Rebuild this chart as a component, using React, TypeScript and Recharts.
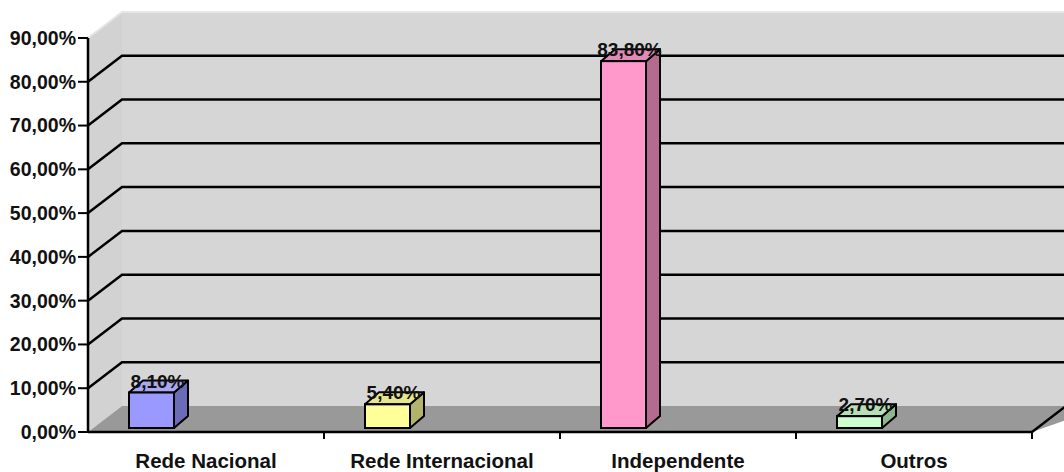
import { BarChart, Bar, XAxis, YAxis, CartesianGrid } from "recharts";

const categories = ["Rede Nacional", "Rede Internacional", "Independente", "Outros"];
const shares = [8.1, 5.4, 83.8, 2.7];
const yTicks = [0, 10, 20, 30, 40, 50, 60, 70, 80, 90];

const FRONT = ["#9999FF", "#FFFF99", "#FF99CC", "#CCFFCC"];
const TOP = ["#A8A8F0", "#E6E68C", "#E08AB5", "#B5E0B5"];
const SIDE = ["#6B6BB8", "#B3B36B", "#B56B90", "#8FB58F"];

// 3D look: back wall offset and bar depth
const WALL_DX = 34;
const WALL_DY = 26;
const BAR_DX = 14;
const BAR_DY = 12;
const BAR_SHIFT = -55;
const BAR_LIFT = -4;

const FONT = "'Liberation Sans', Arial, sans-serif";

const data = categories.map((name, i) => ({ name, value: shares[i] }));

const pct = (v: number) => v.toFixed(2).replace(".", ",") + "%";

function Walls(props: any) {
  const { x, y, width, height, index } = props;
  if (index !== 0) return <g />;
  const bottom = y + height;
  const right = x + width;
  return (
    <g>
      <polygon
        points={`${x},${y} ${x + WALL_DX},${y - WALL_DY} ${x + WALL_DX},${bottom - WALL_DY} ${x},${bottom}`}
        fill="#d2d2d2"
      />
      <polygon
        points={`${x + WALL_DX},${y - WALL_DY} ${right + WALL_DX + 40},${y - WALL_DY} ${right + WALL_DX + 40},${bottom - WALL_DY} ${x + WALL_DX},${bottom - WALL_DY}`}
        fill="#d6d6d6"
      />
      <polygon
        points={`${x},${bottom} ${x + WALL_DX},${bottom - WALL_DY} ${right + WALL_DX + 40},${bottom - WALL_DY} ${right},${bottom}`}
        fill="#999999"
      />
      <polyline
        points={`${x},${y} ${x + WALL_DX},${y - WALL_DY} ${right + WALL_DX + 40},${y - WALL_DY}`}
        fill="none"
        stroke="#e6e6e6"
        strokeWidth={2}
      />
      <line x1={right} y1={bottom} x2={right + WALL_DX} y2={bottom - WALL_DY} stroke="#000" strokeWidth={2.5} />
    </g>
  );
}

function GridLine(props: any) {
  const { x1, y1, x2, y, height } = props;
  if (Math.abs(y1 - y) < 1 || Math.abs(y1 - (y + height)) < 1) return <g />;
  return (
    <polyline
      points={`${x1},${y1} ${x1 + WALL_DX},${y1 - WALL_DY} ${x2 + WALL_DX + 40},${y1 - WALL_DY}`}
      fill="none"
      stroke="#000"
      strokeWidth={2.5}
    />
  );
}

function Bar3D(props: any) {
  const { x, y, width, height, index, value } = props;
  const fx = x + BAR_SHIFT;
  const fy = y + BAR_LIFT;
  const w = width;
  const h = height;
  const v = Array.isArray(value) ? value[1] - value[0] : value;
  return (
    <g>
      <polygon
        points={`${fx + w},${fy} ${fx + w + BAR_DX},${fy - BAR_DY} ${fx + w + BAR_DX},${fy + h - BAR_DY} ${fx + w},${fy + h}`}
        fill={SIDE[index]}
        stroke="#000"
        strokeWidth={2}
        strokeLinejoin="round"
      />
      <polygon
        points={`${fx},${fy} ${fx + BAR_DX},${fy - BAR_DY} ${fx + w + BAR_DX},${fy - BAR_DY} ${fx + w},${fy}`}
        fill={TOP[index]}
        stroke="#000"
        strokeWidth={2}
        strokeLinejoin="round"
      />
      <rect x={fx} y={fy} width={w} height={h} fill={FRONT[index]} stroke="#000" strokeWidth={2} />
      <text
        x={fx + w / 2 + 6}
        y={fy - 5}
        textAnchor="middle"
        fontFamily={FONT}
        fontWeight="bold"
        fontSize={19}
        fill="#111"
      >
        {pct(v)}
      </text>
    </g>
  );
}

function XTick(props: any) {
  const { x, y, payload } = props;
  const half = payload && payload.offset ? payload.offset : 118;
  return (
    <g>
      <line x1={x + half} y1={y} x2={x + half} y2={y + 7} stroke="#000" strokeWidth={2} />
      <text
        x={x}
        y={y + 36}
        textAnchor="middle"
        fontFamily={FONT}
        fontWeight="bold"
        fontSize={20.5}
        fill="#111"
      >
        {payload.value}
      </text>
    </g>
  );
}

export default function App() {
  return (
    <div style={{ position: "absolute", left: 0, top: 0, background: "#fff" }}>
      <BarChart
        width={1064}
        height={472}
        data={data}
        margin={{ top: 38, right: 32, bottom: 0, left: 0 }}
        barSize={45}
      >
        <CartesianGrid vertical={false} horizontal={Walls} stroke="none" />
        <CartesianGrid vertical={false} horizontal={GridLine} stroke="none" />
        <XAxis
          dataKey="name"
          height={40}
          tickLine={false}
          tickSize={0}
          tickMargin={0}
          axisLine={{ stroke: "#000", strokeWidth: 2.5 }}
          tick={<XTick />}
          interval={0}
        />
        <YAxis
          width={88}
          domain={[0, 90]}
          ticks={yTicks}
          interval={0}
          tickFormatter={pct}
          tickSize={10}
          tickMargin={2}
          axisLine={{ stroke: "#000", strokeWidth: 2.5 }}
          tickLine={{ stroke: "#000", strokeWidth: 2 }}
          tick={{ fontFamily: FONT, fontWeight: "bold", fontSize: 19.5, fill: "#111" }}
        />
        <Bar dataKey="value" shape={<Bar3D />} isAnimationActive={false} />
      </BarChart>
    </div>
  );
}
